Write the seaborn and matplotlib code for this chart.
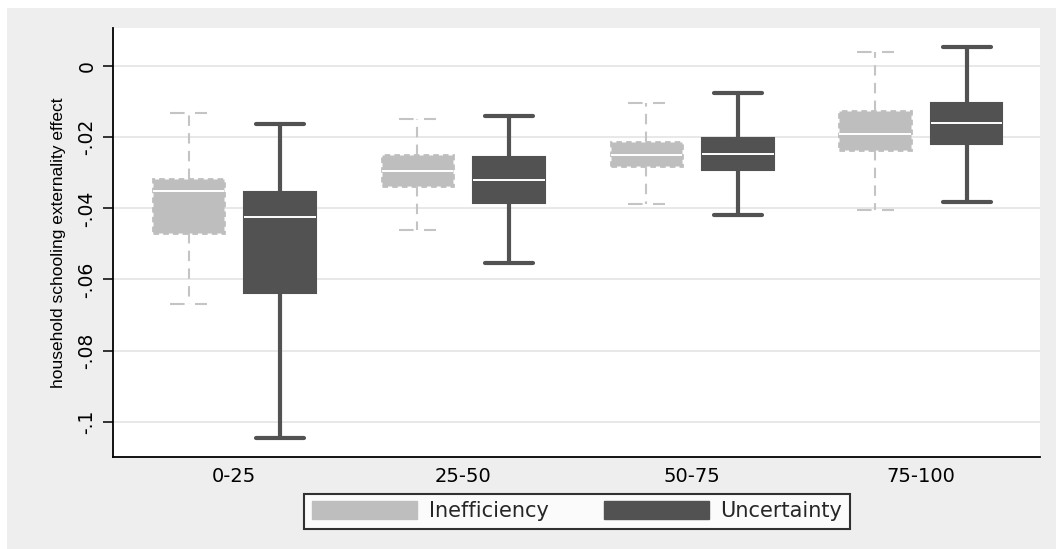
import numpy as np
import pandas as pd
import matplotlib
matplotlib.use("Agg")
import matplotlib.pyplot as plt
from matplotlib.patches import Patch, Rectangle
import seaborn as sns

# Quintile-style income groups on the x axis
groups = ["0-25", "25-50", "50-75", "75-100"]
series_names = ["Inefficiency", "Uncertainty"]

# Box-plot summaries: lower whisker, Q1, median, Q3, upper whisker
ineff_low = [-0.0668, -0.0462, -0.0389, -0.0406]
ineff_q1 = [-0.0468, -0.0338, -0.0281, -0.0236]
ineff_med = [-0.0352, -0.0296, -0.0251, -0.0192]
ineff_q3 = [-0.0318, -0.0251, -0.0213, -0.0126]
ineff_high = [-0.0132, -0.0149, -0.0104, 0.0039]

unc_low = [-0.1045, -0.0553, -0.0420, -0.0381]
unc_q1 = [-0.0639, -0.0384, -0.0293, -0.0218]
unc_med = [-0.0423, -0.0320, -0.0248, -0.0161]
unc_q3 = [-0.0355, -0.0257, -0.0201, -0.0104]
unc_high = [-0.0163, -0.0140, -0.0077, 0.0054]

y_ticks = [0, -0.02, -0.04, -0.06, -0.08, -0.1]
y_tick_labels = ["0", "-.02", "-.04", "-.06", "-.08", "-.1"]

light = "#bebebe"
dark = "#525252"

# Five points per box reproduce the summary exactly (quartiles fall on points 2-4)
rows = []
for name, stats in (
    ("Inefficiency", (ineff_low, ineff_q1, ineff_med, ineff_q3, ineff_high)),
    ("Uncertainty", (unc_low, unc_q1, unc_med, unc_q3, unc_high)),
):
    for i, g in enumerate(groups):
        for arr in stats:
            rows.append({"group": g, "series": name, "value": arr[i]})
df = pd.DataFrame(rows)

sns.set_theme(style="ticks")
plt.rcParams["font.family"] = ["DejaVu Sans"]

W, H = 1061, 549
fig = plt.figure(figsize=(W / 100, H / 100), dpi=100, facecolor="white")
fig.patches.append(Rectangle((7 / W, 0), (W - 12) / W, (H - 8) / H,
                             transform=fig.transFigure, facecolor="#eeeeee",
                             edgecolor="none", zorder=-10))
ax = fig.add_axes([113 / W, 92 / H, 927 / W, 429 / H])
ax.set_facecolor("white")

sns.boxplot(data=df, x="group", y="value", hue="series", order=groups,
            hue_order=series_names, palette={"Inefficiency": light, "Uncertainty": dark},
            width=0.8, gap=0.22, whis=(0, 100), showfliers=False, linewidth=1,
            legend=False, ax=ax)

# Style each series: dashed light outlines vs. heavy dark whiskers
for cont, name in zip(ax.containers, series_names):
    if name == "Inefficiency":
        for b in cont.boxes:
            b.set_facecolor(light)
            b.set_edgecolor(light)
            b.set_linestyle((0, (2, 1.5)))
            b.set_linewidth(2)
        for w in cont.whiskers:
            w.set_color("#c4c4c4")
            w.set_linewidth(1.5)
            w.set_linestyle((0, (5, 3.5)))
        for c in cont.caps:
            c.set_color("#c4c4c4")
            c.set_linewidth(1.5)
            c.set_linestyle((0, (7, 5)))
            xm = np.mean(c.get_xdata())
            c.set_xdata([xm - 0.08, xm + 0.08])
    else:
        for b in cont.boxes:
            b.set_facecolor(dark)
            b.set_edgecolor(dark)
            b.set_linewidth(1.5)
        for w in cont.whiskers:
            w.set_color(dark)
            w.set_linewidth(3)
        for c in cont.caps:
            c.set_color(dark)
            c.set_linewidth(3)
            xm = np.mean(c.get_xdata())
            c.set_xdata([xm - 0.105, xm + 0.105])
    for m in cont.medians:
        m.set_color("white")
        m.set_linewidth(1.4)

ax.set_xlim(-0.53, 3.52)
ax.set_ylim(-0.1099, 0.0107)
ax.set_yticks(y_ticks)
ax.set_yticklabels(y_tick_labels, rotation=90, va="center")
ax.yaxis.grid(True, color="#e6e6e6", linewidth=1.3)
ax.set_axisbelow(True)

for side in ("top", "right"):
    ax.spines[side].set_visible(False)
for side in ("left", "bottom"):
    ax.spines[side].set_color("black")
    ax.spines[side].set_linewidth(1.3)

ax.tick_params(axis="y", left=True, length=7, width=1.1, color="black",
               direction="out", pad=5, labelsize=13.5, labelcolor="black")
ax.tick_params(axis="x", bottom=False, length=0, pad=7, labelsize=14,
               labelcolor="black")
ax.set_xlabel("")
ax.set_ylabel("household schooling externality effect", fontsize=12.5,
              family=["Liberation Sans", "DejaVu Sans"], color="black",
              labelpad=8)

handles = [Patch(facecolor=light, edgecolor=light, label="Inefficiency"),
           Patch(facecolor=dark, edgecolor=dark, label="Uncertainty")]
leg = fig.legend(handles=handles, loc="upper center",
                 bbox_to_anchor=(577 / W, 55 / H), ncol=2, frameon=True,
                 fancybox=False, edgecolor="black", facecolor="white",
                 handlelength=5.04, handleheight=0.95, handletextpad=0.58,
                 columnspacing=2.64, borderpad=0.35, borderaxespad=0,
                 fontsize=15)
leg.get_frame().set_linewidth(1.5)

fig.savefig("out.png", dpi=100, facecolor=fig.get_facecolor())
